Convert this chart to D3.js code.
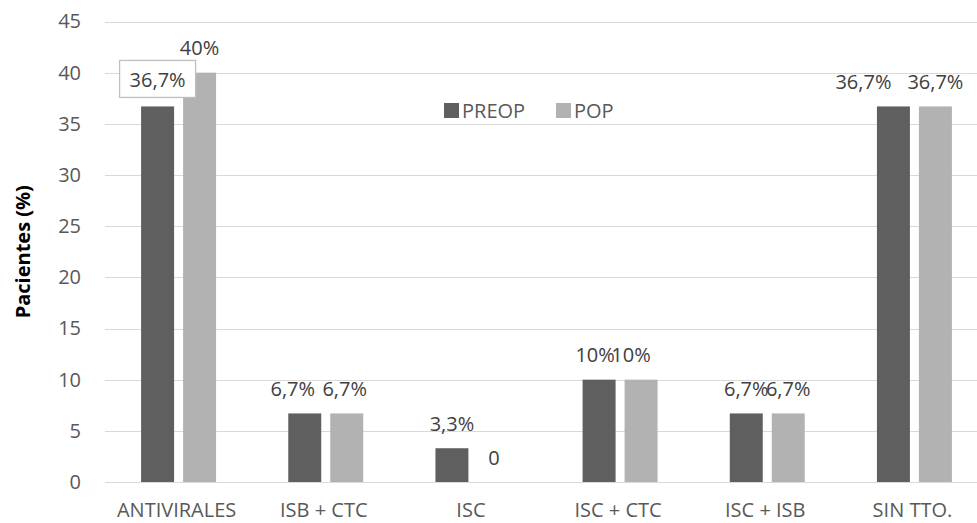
<!DOCTYPE html>
<html>
<head>
<meta charset="utf-8">
<script src="https://cdn.jsdelivr.net/npm/d3@7"></script>
<style>
  html, body { margin: 0; padding: 0; background: #fff; }
  svg { display: block; font-family: "Open Sans", sans-serif; }
</style>
</head>
<body>
<svg id="chart" width="977" height="523"></svg>
<script>
// ---- data ----
const categories = ["ANTIVIRALES", "ISB + CTC", "ISC", "ISC + CTC", "ISC + ISB", "SIN TTO."];
const seriesNames = ["PREOP", "POP"];
const preopValues = [36.7, 6.7, 3.3, 10, 6.7, 36.7];
const popValues = [40, 6.7, 0, 10, 6.7, 36.7];
const preopLabels = ["36,7%", "6,7%", "3,3%", "10%", "6,7%", "36,7%"];
const popLabels = ["40%", "6,7%", "0", "10%", "6,7%", "36,7%"];
const yTicks = [0, 5, 10, 15, 20, 25, 30, 35, 40, 45];
const yTitle = "Pacientes (%)";

// ---- layout / style ----
const colors = { PREOP: "#5f5f5f", POP: "#b2b2b2" };
const W = 977, H = 523;
const plot = { left: 105, right: 988, top: 21.5, bottom: 482 };
// manual label nudges (as in the reference), keyed "series|categoryIndex"
const labelNudge = { "PREOP|1": -12, "POP|1": -2, "PREOP|3": -4, "POP|3": -10, "PREOP|5": -30 };

const svg = d3.select("#chart");

const y = d3.scaleLinear().domain([0, 45]).range([plot.bottom, plot.top]);
const x0 = d3.scaleBand().domain(categories).range([plot.left, plot.right]).paddingInner(0).paddingOuter(0);
const x1 = d3.scaleBand().domain(seriesNames).range([0, x0.bandwidth()]).paddingInner(0.2143).paddingOuter(0.86);

// gridlines
svg.append("g").selectAll("line").data(yTicks).join("line")
  .attr("x1", plot.left).attr("x2", W)
  .attr("y1", d => Math.round(y(d)) + 0.5).attr("y2", d => Math.round(y(d)) + 0.5)
  .attr("stroke", "#d9d9d9").attr("stroke-width", 1);

// y axis labels
const yAxis = d3.axisLeft(y).tickValues(yTicks).tickSize(0).tickPadding(0);
const gy = svg.append("g").attr("transform", `translate(81,0)`).call(yAxis);
gy.select(".domain").remove();
gy.selectAll("text").attr("font-size", 20).attr("fill", "#595959")
  .attr("font-family", "Open Sans, sans-serif");

// y title
svg.append("text")
  .attr("transform", `translate(30,${(plot.top + plot.bottom) / 2}) rotate(-90)`)
  .attr("text-anchor", "middle")
  .attr("font-size", 20).attr("font-weight", "bold").attr("fill", "#000")
  .text(yTitle);

// x axis labels
const xAxis = d3.axisBottom(x0).tickSize(0).tickPadding(0);
const gx = svg.append("g").attr("transform", `translate(-2,${plot.bottom})`).call(xAxis);
gx.select(".domain").remove();
gx.selectAll("text").attr("font-size", 20).attr("fill", "#595959")
  .attr("font-family", "Open Sans, sans-serif")
  .attr("dy", null).attr("y", 35);

// bars
const rows = categories.map((c, i) => ({ cat: c, i, PREOP: preopValues[i], POP: popValues[i] }));
const labelsBySeries = { PREOP: preopLabels, POP: popLabels };

const groups = svg.append("g").selectAll("g").data(rows).join("g")
  .attr("transform", d => `translate(${x0(d.cat)},0)`);

groups.selectAll("rect").data(d => seriesNames.map(s => ({ s, v: d[s], i: d.i })))
  .join("rect")
  .attr("x", d => x1(d.s))
  .attr("width", x1.bandwidth())
  .attr("y", d => y(d.v))
  .attr("height", d => y(0) - y(d.v))
  .attr("fill", d => colors[d.s]);

// data labels
const labelLayer = svg.append("g");
rows.forEach(r => {
  seriesNames.forEach(s => {
    const cx = x0(r.cat) + x1(s) + x1.bandwidth() / 2 + (labelNudge[s + "|" + r.i] || 0);
    const top = y(r[s]);
    const txt = labelsBySeries[s][r.i];
    if (s === "PREOP" && r.i === 0) {
      // boxed label
      const boxW = 76, boxH = 37;
      const cy = top - 27.5;
      labelLayer.append("rect")
        .attr("x", cx - boxW / 2).attr("y", cy - boxH / 2)
        .attr("width", boxW).attr("height", boxH)
        .attr("fill", "#fff").attr("stroke", "#bfbfbf").attr("stroke-width", 1.3);
      labelLayer.append("text")
        .attr("x", cx).attr("y", cy + 8)
        .attr("text-anchor", "middle").attr("font-size", 20).attr("fill", "#404040")
        .text(txt);
    } else {
      labelLayer.append("text")
        .attr("x", cx).attr("y", top - 17.5)
        .attr("text-anchor", "middle").attr("font-size", 20).attr("fill", "#404040")
        .text(txt);
    }
  });
});

// legend
const legend = svg.append("g").attr("transform", "translate(444,103)");
const legendX = { PREOP: 0, POP: 112 };
seriesNames.forEach(s => {
  const g = legend.append("g").attr("transform", `translate(${legendX[s]},0)`);
  g.append("rect").attr("width", 15).attr("height", 15).attr("fill", colors[s]);
  g.append("text").attr("x", 18).attr("y", 15)
    .attr("font-size", 20).attr("fill", "#595959").text(s);
});
</script>
</body>
</html>
